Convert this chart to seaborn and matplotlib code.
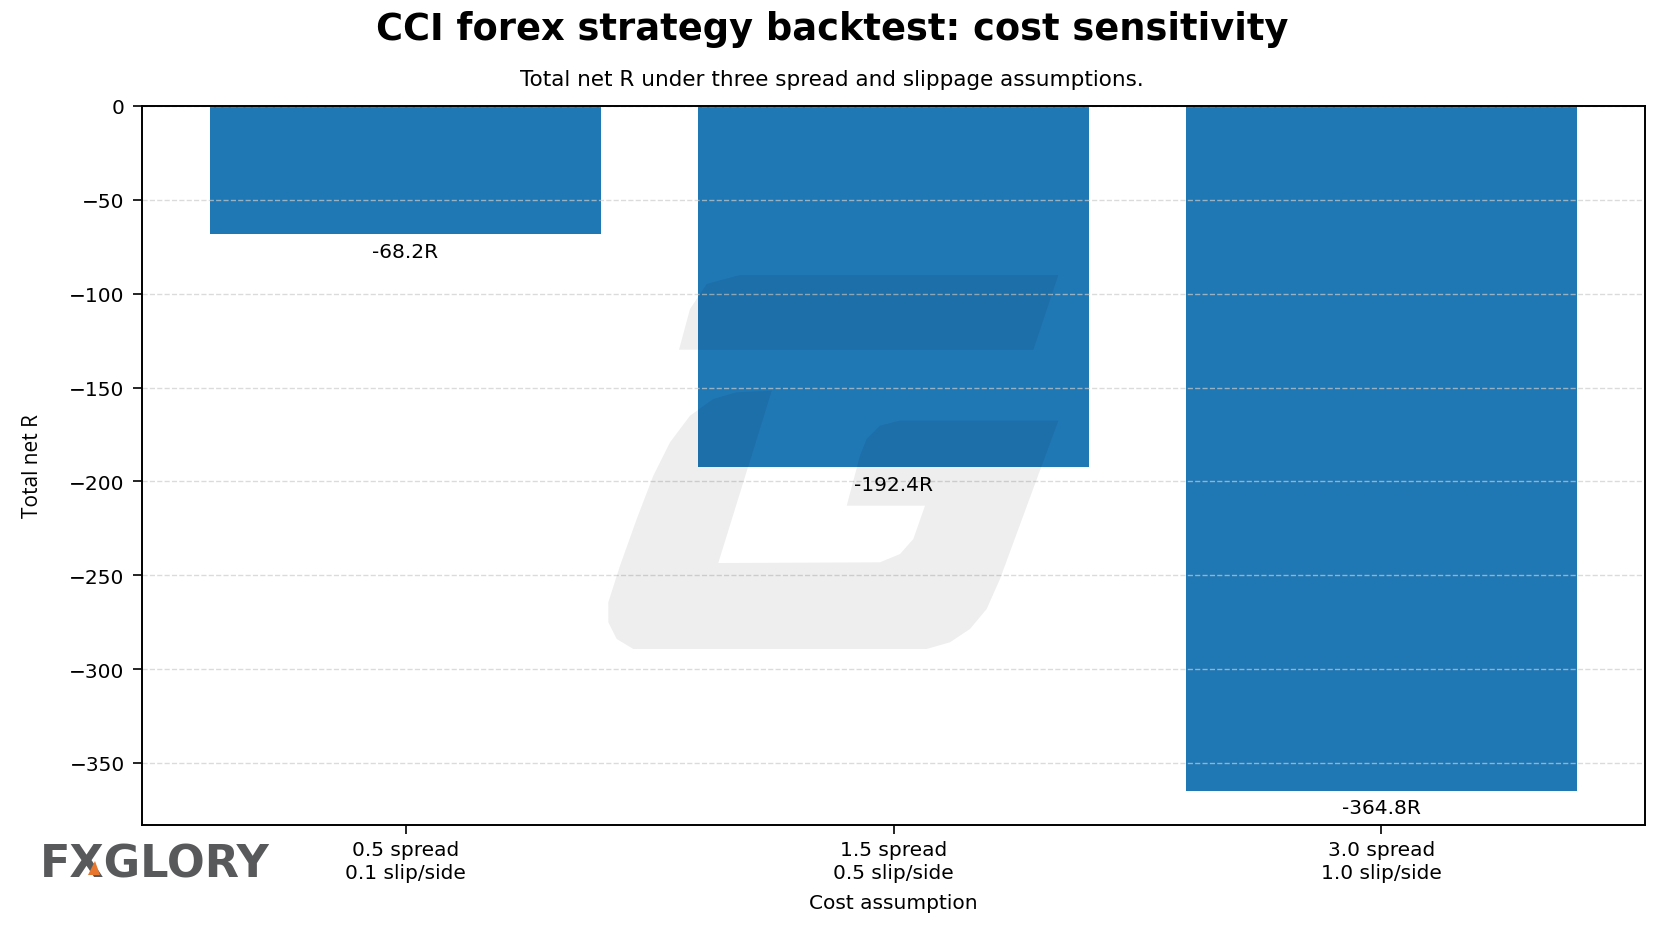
import numpy as np
import pandas as pd
import matplotlib
matplotlib.use("Agg")
import matplotlib.pyplot as plt
from matplotlib.patches import Polygon
import seaborn as sns

# data
cost_labels = ["0.5 spread\n0.1 slip/side", "1.5 spread\n0.5 slip/side", "3.0 spread\n1.0 slip/side"]
total_net_r = [-68.2, -192.4, -364.8]

W, H = 1664, 928

# watermark outline (reference pixel coords), decoration only
mark_top = [(740, 276), (706.7, 285), (690, 310), (679, 350.7), (1033.3, 350.7), (1058.3, 276)]
mark_body = [(771.7, 391.7), (736.7, 393.3), (713.3, 400), (690, 416.7), (670, 443.3),
             (653.3, 476.7), (636.7, 520), (620, 566.7), (608.3, 603.3), (608.3, 623.3),
             (616.7, 640), (633.3, 650), (926.7, 650), (950, 643.3), (970, 630),
             (986.7, 610), (1000, 580), (1058.3, 421.7), (900, 421.7), (880, 426.7),
             (866.7, 440), (860, 456.7), (846.7, 506.7), (925, 506.7), (913.3, 540),
             (900, 555), (880, 563.3), (718.3, 564)]
logo_accent = [(88, 876), (95, 862), (100, 876)]


def to_fig(pts):
    return [(x / W, 1 - y / H) for x, y in pts]


def main():
    plt.style.use('default')
    df = pd.DataFrame({"cost": cost_labels, "net_r": total_net_r})

    fig = plt.figure(figsize=(W / 100, H / 100), dpi=100)
    ax = fig.add_axes([142 / W, 1 - 826 / H, (1645 - 142) / W, (826 - 107) / H])

    sns.barplot(data=df, x="cost", y="net_r", ax=ax, color="#1f77b4",
                saturation=1, width=0.8, errorbar=None)

    # value labels under each bar
    ax.bar_label(ax.containers[0], labels=[f"{v:.1f}R" for v in total_net_r],
                 padding=5.5, fontsize=14.5)

    ax.set_xlim(-0.54, 2.54)
    ax.set_ylim(min(total_net_r) * 1.05, 0)
    ax.set_yticks(np.arange(0, -351, -50))
    ax.yaxis.grid(True, linestyle="--", color="#cccccc", alpha=0.7, linewidth=1)
    ax.xaxis.grid(False)

    for s in ax.spines.values():
        s.set_linewidth(1.4)
        s.set_color("black")
    ax.tick_params(axis="both", labelsize=14.5, length=6.5, width=1.2)
    ax.tick_params(axis="y", pad=6)
    ax.tick_params(axis="x", pad=4)
    plt.setp(ax.get_xticklabels(), linespacing=1.3)

    ax.set_xlabel("Cost assumption", fontsize=14.5, labelpad=8)
    ax.set_ylabel("Total net R", fontsize=15, family=["Open Sans", "DejaVu Sans"], va="center")
    ax.yaxis.set_label_coords(-0.073, 0.5)

    fig.text(0.5, 1 - 30 / H, "CCI forex strategy backtest: cost sensitivity",
             ha="center", va="center", fontsize=26.5, fontweight="bold")
    fig.text(0.5, 1 - 80 / H, "Total net R under three spread and slippage assumptions.",
             ha="center", va="center", fontsize=15.5)

    # watermark and logo
    fig.patches.append(Polygon(to_fig(mark_top), closed=True, transform=fig.transFigure,
                               facecolor="black", alpha=0.065, edgecolor="none", zorder=5))
    fig.patches.append(Polygon(to_fig(mark_body), closed=True, transform=fig.transFigure,
                               facecolor="black", alpha=0.065, edgecolor="none", zorder=5))
    fig.text(40 / W, 1 - 878 / H, "FXGLORY", ha="left", va="baseline",
             fontsize=32, fontweight="bold", color="#58595b")
    fig.patches.append(Polygon(to_fig(logo_accent), closed=True, transform=fig.transFigure,
                               facecolor="#e8762c", edgecolor="none", zorder=6))

    fig.savefig("out.png", dpi=100)


if __name__ == "__main__":
    main()
